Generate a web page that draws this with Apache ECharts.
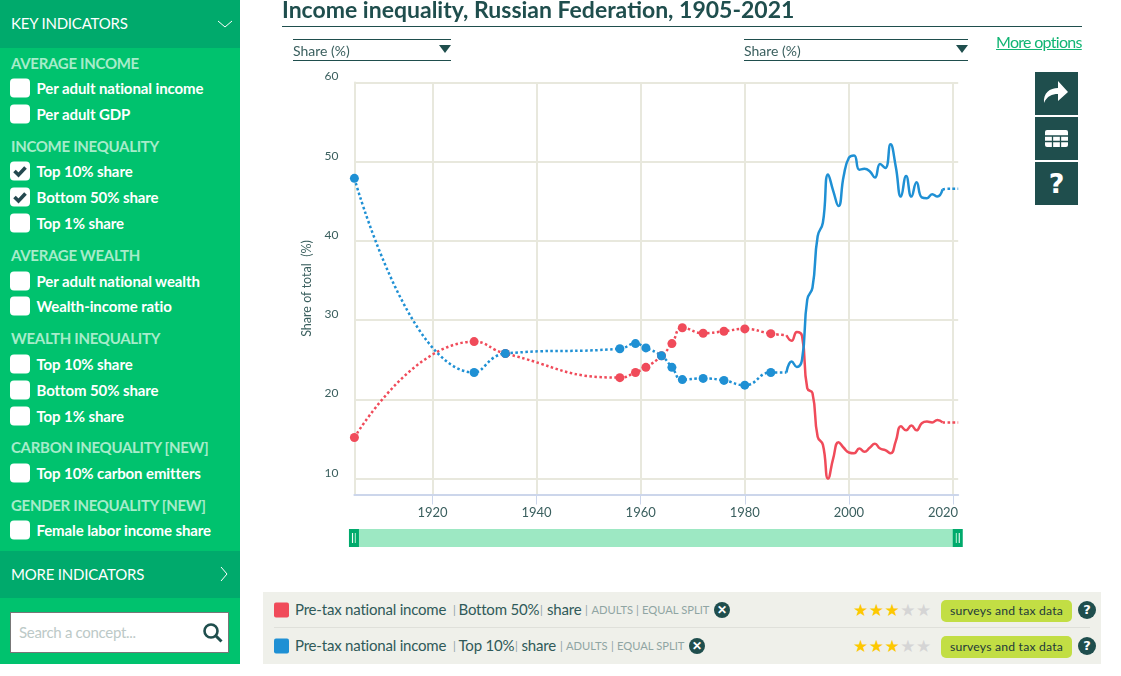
<!DOCTYPE html>
<html>
<head>
<meta charset="utf-8">
<title>Income inequality, Russian Federation, 1905-2021</title>
<script src="https://cdn.jsdelivr.net/npm/echarts@6/dist/echarts.min.js"></script>
<style>
html,body{margin:0;padding:0;background:#fff;overflow:hidden;font-family:Lato,sans-serif;}
#main{position:absolute;left:0;top:0;width:1121px;height:676px;}
.abs{position:absolute;white-space:nowrap;}
#side{left:0;top:0;width:240px;height:664px;background:#00c26e;}
.band{position:absolute;left:0;width:240px;background:#00aa6c;}
.bandtxt{color:#fff;font-size:15px;letter-spacing:-.2px;transform:translateY(-50%);}
.head{color:#a6ecca;font-size:15px;font-weight:700;letter-spacing:-.3px;left:11px;transform:translateY(-50%);}
.item{color:#fff;font-size:15px;font-weight:700;letter-spacing:-.1px;left:36.5px;transform:translateY(-50%);}
.box{left:10px;width:20px;height:19px;background:#fff;border-radius:4px;transform:translateY(-50%);}
.drop{border-top:1px solid #1f4e4d;border-bottom:1px solid #1f4e4d;height:20px;color:#3a5f5e;font-size:14px;line-height:21px;}
.tri{position:absolute;right:0;top:5px;width:0;height:0;border-left:6px solid transparent;border-right:6px solid transparent;border-top:8px solid #1f4e4d;}
.btn{left:1035px;width:43px;height:43px;background:#1f4e4d;}
#strip{left:263px;top:592px;width:838px;height:72px;background:#eff0ea;}
.sw{left:274px;width:15px;height:15px;border-radius:2px;transform:translateY(-50%);}
.lt{color:#2f5a59;font-size:15px;letter-spacing:-.2px;transform:translateY(-50%);}
.sm{color:#8fa5a3;font-size:11.2px;transform:translateY(-50%);}
.x{width:16px;height:16px;border-radius:50%;background:#1f4e4d;color:#fff;font-size:12px;font-weight:900;line-height:16px;text-align:center;transform:translateY(-50%);}
.star{left:853px;font-size:17px;letter-spacing:.5px;line-height:17px;color:#d5d5d5;transform:translateY(-50%);font-family:"DejaVu Sans",sans-serif;}
.star b{font-weight:400;color:#fdc800;}
.badge{left:941px;width:131px;height:22px;background:#c2de44;border-radius:5px;color:#22393a;font-size:12.2px;letter-spacing:.2px;line-height:22px;text-align:center;transform:translateY(-50%);}
.q{left:1078px;width:18px;height:18px;border-radius:50%;background:#1f4e4d;color:#fff;font-family:"DejaVu Sans",sans-serif;font-size:13px;font-weight:700;line-height:18px;text-align:center;transform:translateY(-50%);}
</style>
</head>
<body>
<div id="main"></div>
<div id="side" class="abs">
  <div class="band" style="top:0;height:48px"></div>
  <div class="band" style="top:551px;height:47px"></div>
</div>
<div class="abs bandtxt" style="left:11px;top:23px">KEY INDICATORS</div>
<svg class="abs" style="left:217px;top:19px" width="16" height="10"><path d="M1 2 L8 8 L15 2" fill="none" stroke="#fff" stroke-width="1"/></svg>
<div class="abs bandtxt" style="left:11px;top:574px">MORE INDICATORS</div>
<svg class="abs" style="left:219px;top:566px" width="10" height="16"><path d="M2 1 L8 8 L2 15" fill="none" stroke="#fff" stroke-width="1"/></svg>
<div class="abs" style="left:10px;top:612px;width:217px;height:39px;background:#fff;border:1px solid #777;color:#bcc9c7;font-size:15px;line-height:39px;text-indent:8px;letter-spacing:-.3px">Search a concept...</div>
<svg class="abs" style="left:201px;top:621px" width="22" height="22"><circle cx="10" cy="10" r="6.5" fill="none" stroke="#1f4e4d" stroke-width="2.6"/><path d="M15 15 L20.5 20.5" stroke="#1f4e4d" stroke-width="3"/></svg>

<div class="abs drop" style="left:293px;top:39px;width:158px">Share (%)<div class="tri"></div></div>
<div class="abs drop" style="left:744px;top:39px;width:224px">Share (%)<div class="tri"></div></div>
<div class="abs" style="left:996px;top:32px;color:#12b574;font-size:16px;text-decoration:underline;letter-spacing:-.7px">More options</div>

<div class="abs btn" style="top:72px"><svg width="43" height="43"><path d="M9 31 C8 21 15 16 23 16 L23 9 L33 20 L23 29 L23 22 C17 22 12 24 9 31 Z" fill="#fff"/></svg></div>
<div class="abs btn" style="top:117px"><svg width="43" height="43"><rect x="10" y="13" width="23" height="17" rx="2" fill="#fff"/><path d="M10 19 H33 M10 24.5 H33 M17.5 19 V30 M25.5 19 V30" stroke="#1f4e4d" stroke-width="1.3"/></svg></div>
<div class="abs btn" style="top:162px;color:#fff;font-family:'DejaVu Sans',sans-serif;font-size:27px;font-weight:700;line-height:43px;text-align:center">?</div>

<div id="strip" class="abs"></div>
<div class="abs" style="left:274px;top:627px;width:816px;height:1px;background:#dfe0da"></div>

<script>
// years with data
var years=[1905,1928,1934,1956,1959,1961,1964,1966,1968,1972,1976,1980,1985,1988,1989,1990,1991,1992,1993,1994,1995,1996,1997,1998,1999,2000,2001,2002,2003,2004,2005,2006,2007,2008,2009,2010,2011,2012,2013,2014,2015,2016,2017,2018,2019,2020,2021];
var bottom50=[15.2,27.3,25.8,22.75,23.4,24.05,25.5,27.05,29.05,28.35,28.6,28.9,28.3,28.1,27.4,28.5,28.0,21.4,20.8,15.3,14.3,10.0,12.6,14.6,13.9,13.3,13.2,13.8,13.4,13.9,14.4,13.8,13.6,13.2,14.7,16.6,16.1,16.7,16.1,17.0,17.2,17.1,17.4,17.1,17.1,17.1,17.1];
var top10=[47.9,23.4,25.8,26.4,27.05,26.5,25.5,24.05,22.5,22.65,22.4,21.8,23.4,23.4,24.8,24.1,25.0,32.6,34.1,40.6,42.3,48.4,46.3,44.4,48.2,50.5,50.8,49.0,49.1,48.8,48.0,49.7,49.2,52.2,49.4,45.6,48.2,45.6,47.4,45.5,45.4,45.9,45.6,46.5,46.6,46.6,46.6];
var yTicks=[10,20,30,40,50,60];
var xTicks=[1920,1940,1960,1980,2000,2020];
var solidFrom=1988, solidTo=2018;

// left panel
var sideRows=[
 ['h','AVERAGE INCOME',63],['i','Per adult national income',88],['i','Per adult GDP',114],
 ['h','INCOME INEQUALITY',146],['c','Top 10% share',171],['c','Bottom 50% share',197],['i','Top 1% share',223],
 ['h','AVERAGE WEALTH',255],['i','Per adult national wealth',281],['i','Wealth-income ratio',306],
 ['h','WEALTH INEQUALITY',338],['i','Top 10% share',364],['i','Bottom 50% share',390],['i','Top 1% share',416],
 ['h','CARBON INEQUALITY [NEW]',447],['i','Top 10% carbon emitters',473],
 ['h','GENDER INEQUALITY [NEW]',505],['i','Female labor income share',530]
];
function add(cls,text,style){
    var d=document.createElement('div');
    d.className='abs '+cls;
    d.innerHTML=text;
    d.style.cssText=style;
    document.body.appendChild(d);
    return d;
}
var tick='<svg width="20" height="19"><path d="M4.5 9.5 L8.5 13.5 L15.5 6" fill="none" stroke="#24484f" stroke-width="3.6"/></svg>';
sideRows.forEach(function(r){
    if(r[0]=='h'){ add('head',r[1],'top:'+r[2]+'px'); return; }
    add('box',r[0]=='c'?tick:'','top:'+r[2]+'px');
    add('item',r[1],'top:'+r[2]+'px');
});

// legend rows under the chart
var rows=[
 {y:610,color:'#f04b5a',parts:[[295,'Pre-tax national income','lt'],[453,'|','sm'],[458.5,'Bottom 50%','lt'],[540,'|','sm'],[547,'share','lt'],[585,'|','sm'],[591.5,'ADULTS','sm'],[636,'|','sm'],[642,'EQUAL SPLIT','sm']],x:714},
 {y:646,color:'#1f90d4',parts:[[295,'Pre-tax national income','lt'],[453,'|','sm'],[458.5,'Top 10%','lt'],[515,'|','sm'],[521.5,'share','lt'],[560,'|','sm'],[566,'ADULTS','sm'],[611,'|','sm'],[617,'EQUAL SPLIT','sm']],x:689}
];
rows.forEach(function(r){
    add('sw','','top:'+r.y+'px;background:'+r.color);
    r.parts.forEach(function(p){ add(p[2],p[1],'left:'+p[0]+'px;top:'+(r.y-1)+'px'); });
    add('x','&#10005;','left:'+r.x+'px;top:'+r.y+'px');
    add('star','<b>&#9733;&#9733;&#9733;</b>&#9733;&#9733;','top:'+r.y+'px');
    add('badge','surveys and tax data','top:'+(r.y+1)+'px');
    add('q','?','top:'+r.y+'px');
});

// split the years into dotted and solid stretches
function pairs(values,from,to){
    var out=[];
    years.forEach(function(y,i){
        if(y>=from&&y<=to) out.push([y,values[i]]);
    });
    return out;
}
function lineSeries(name,color,values){
    var early=pairs(values,years[0],solidFrom).map(function(p){
        return p[0]==solidFrom?{value:p,symbol:'none'}:{value:p};
    });
    var base={name:name,type:'line',smooth:true,animation:false,silent:true,itemStyle:{color:color}};
    return [
        Object.assign({},base,{data:early,symbol:'circle',symbolSize:9,showAllSymbol:true,lineStyle:{color:color,width:2.5,type:[2.5,2.5]}}),
        Object.assign({},base,{data:pairs(values,solidFrom,solidTo),showSymbol:false,lineStyle:{color:color,width:2.5}}),
        Object.assign({},base,{data:pairs(values,solidTo,years[years.length-1]),showSymbol:false,lineStyle:{color:color,width:2.5,type:[2.5,2.5]}})
    ];
}

var Myecharts=echarts.init(document.getElementById('main'));
var option={
    animation:false,
    title:{
        text:'Income inequality, Russian Federation, 1905-2021',
        left:282,top:-1,padding:0,
        textStyle:{color:'#1f4e4d',fontFamily:'Lato',fontSize:23,fontWeight:700}
    },
    graphic:[{type:'rect',shape:{x:282,y:26,width:800,height:1},style:{fill:'#1f4e4d'},silent:true}],
    grid:{left:354.4,top:82.5,width:603.8,height:412},
    xAxis:{
        type:'value',min:1905,max:2021,
        axisLine:{show:true,onZero:false,lineStyle:{color:'#ccd6eb',width:2}},
        axisTick:{show:true,length:10,customValues:xTicks,lineStyle:{color:'#ccd6eb',width:1}},
        axisLabel:{
            customValues:xTicks,color:'#3a5f5e',fontFamily:'Lato',fontSize:13,margin:12,
            // the last label sits left of its tick, inside the plot
            formatter:function(v){return v==2020?'{end|2020}':''+v},
            rich:{end:{color:'#3a5f5e',fontFamily:'Lato',fontSize:13,padding:[0,20,0,0]}}
        },
        splitLine:{show:true,lineStyle:{color:'#e8e8dd',width:2}}
    },
    yAxis:{
        type:'value',min:8,max:60,
        name:'Share of total  (%)',nameLocation:'middle',nameGap:40,
        nameTextStyle:{color:'#3a5f5e',fontFamily:'Lato',fontSize:12.5},
        axisLine:{show:true,onZero:false,lineStyle:{color:'#e8e8dd',width:2}},
        axisTick:{show:false,customValues:yTicks},
        axisLabel:{customValues:yTicks,color:'#3a5f5e',fontFamily:'Lato',fontSize:12,margin:16,verticalAlign:'bottom'},
        splitLine:{show:true,lineStyle:{color:'#e8e8dd',width:2}}
    },
    dataZoom:[{
        type:'slider',xAxisIndex:0,filterMode:'none',
        left:352.4,width:605.8,top:529,height:18,
        start:0,end:100,
        showDetail:false,showDataShadow:false,brushSelect:false,
        moveHandleSize:0,
        borderColor:'transparent',backgroundColor:'#9de8c3',fillerColor:'#9de8c3',
        handleSize:'100%',
        handleIcon:'path://M0 0H10V18H0ZM3 4V14H4.2V4ZM5.8 4V14H7V4Z',
        handleStyle:{color:'#00aa6c',borderColor:'#00aa6c',borderWidth:0}
    }],
    series:lineSeries('Bottom 50%','#f04b5a',bottom50).concat(lineSeries('Top 10%','#1f90d4',top10))
};
Myecharts.setOption(option);
</script>
</body>
</html>
